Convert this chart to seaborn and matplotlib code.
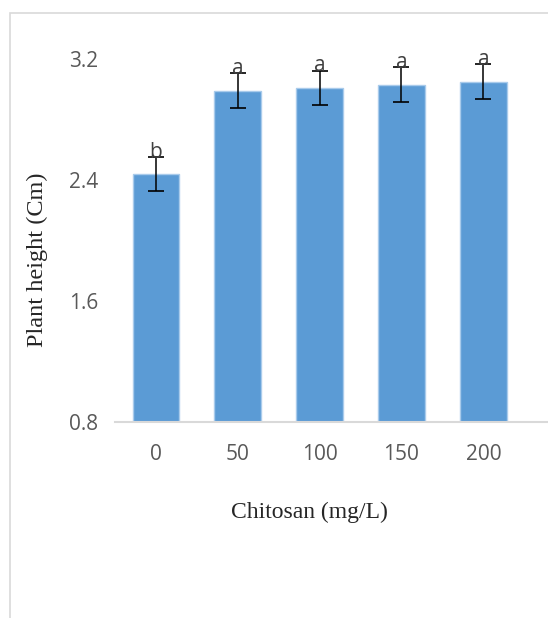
import pandas as pd
import seaborn as sns
import matplotlib.pyplot as plt
from matplotlib.patches import Rectangle

# values
doses = ['0', '50', '100', '150', '200']
heights = [2.44, 2.99, 3.01, 3.03, 3.05]
errors = [0.11, 0.115, 0.113, 0.116, 0.115]
letters = ['b', 'a', 'a', 'a', 'a']
y_ticks = [0.8, 1.6, 2.4, 3.2]

W, H = 548, 618
df = pd.DataFrame({'dose': doses, 'height': heights})

sns.set_style('white')
fig = plt.figure(figsize=(W / 100, H / 100), dpi=100)
ax = fig.add_axes([115 / W, 196 / H, 433 / W, 363 / H])

sns.barplot(data=df, x='dose', y='height', color='#5B9BD5', saturation=1,
            width=0.57, edgecolor='#A9CBEB', linewidth=1, ax=ax)
ax.errorbar(range(len(doses)), heights, yerr=errors, fmt='none',
            ecolor='black', elinewidth=1.1, capsize=6, capthick=1.2)

for i, (h, e, s) in enumerate(zip(heights, errors, letters)):
    ax.text(i, h + e - 0.004, s, ha='center', va='baseline', fontsize=15,
            family='Open Sans', color='#404040', clip_on=False)

ax.set_ylim(0.8, 3.2)
ax.set_xlim(-0.5, 4.79)
ax.set_yticks(y_ticks)
ax.set_yticklabels([f'{t:.1f}' for t in y_ticks])
for lab in ax.get_xticklabels() + ax.get_yticklabels():
    lab.set_family('Open Sans')
    lab.set_fontsize(15)
    lab.set_color('#595959')
ax.tick_params(axis='x', length=0, pad=16)
ax.tick_params(axis='y', length=0, pad=12)

for side in ['top', 'right', 'left']:
    ax.spines[side].set_visible(False)
ax.spines['bottom'].set_color('#D9D9D9')
ax.spines['bottom'].set_linewidth(1.5)

ax.set_xlabel('Chitosan (mg/L)', family='Liberation Serif', fontsize=17)
ax.set_ylabel('Plant height (Cm)', family='Liberation Serif', fontsize=17.5)
ax.xaxis.set_label_coords((309 - 115) / 433, -(512 - 422) / 363)
ax.xaxis.label.set_va('center')
ax.yaxis.set_label_coords((37 - 115) / 433, (618 - 260 - 196) / 363)
ax.yaxis.label.set_va('center')

# chart border, cropped at right and bottom
fig.patches.append(Rectangle((9.5 / W, -0.1), 1.2, (H - 13) / H + 0.1,
                             transform=fig.transFigure, fill=False,
                             edgecolor='#D9D9D9', linewidth=1.2))

fig.savefig('out.png', dpi=100)
